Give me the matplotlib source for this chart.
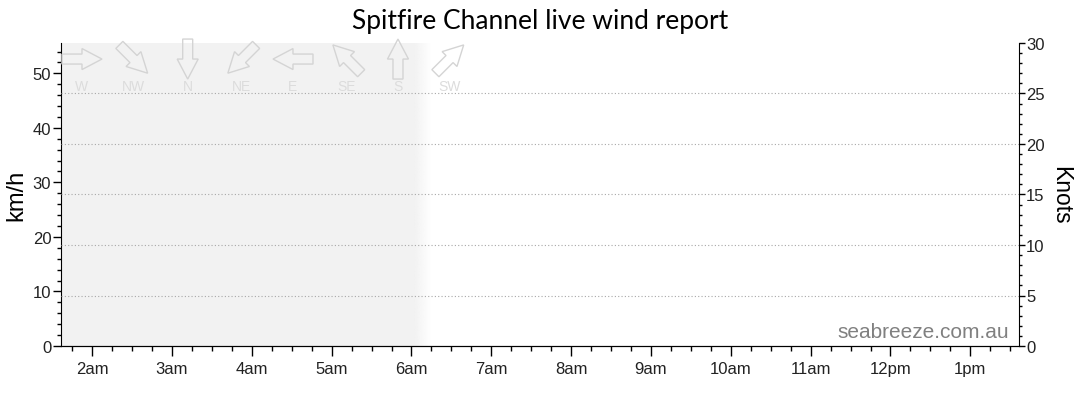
"""
Spitfire Channel live wind report: empty live chart with wind direction row.
"""

import matplotlib

matplotlib.use("Agg")

import matplotlib.pyplot as plt
import numpy as np
from matplotlib import transforms
from matplotlib.patches import Polygon
from matplotlib.ticker import MultipleLocator

# ---- data ------------------------------------------------------------------
hour_ticks = [2, 3, 4, 5, 6, 7, 8, 9, 10, 11, 12, 13]
hour_labels = ["2am", "3am", "4am", "5am", "6am", "7am", "8am",
               "9am", "10am", "11am", "12pm", "1pm"]
x_start, x_end = 1.61, 13.61          # visible time window (hours)
knots_max = 30
knot_grid = [5, 10, 15, 20, 25]

# night / no-report shading
shade_solid_end = 6.03
shade_fade_end = 6.24

# wind direction row
dir_hours = [1.873, 2.518, 3.197, 3.877, 4.516, 5.193, 5.831, 6.477]
dir_labels = ["W", "NW", "N", "NE", "E", "SE", "S", "SW"]
compass = {"N": 0, "NE": 45, "E": 90, "SE": 135,
           "S": 180, "SW": 225, "W": 270, "NW": 315}

KMH_PER_KNOT = 1.852
kmh_max = knots_max * KMH_PER_KNOT

plt.rcParams["font.family"] = ["Liberation Sans", "DejaVu Sans"]

fig = plt.figure(figsize=(10.8, 4.14), dpi=100)
ax = fig.add_axes([61 / 1080, 1 - 347 / 414, 958 / 1080, 303 / 414])
ax2 = ax.twinx()

# shading
shade_rgb = np.array([242, 242, 242]) / 255
ax.axvspan(x_start, shade_solid_end, color=shade_rgb, lw=0, zorder=0)
grad = np.ones((1, 64, 4))
grad[..., :3] = shade_rgb
grad[..., 3] = np.linspace(1, 0, 64)
ax.imshow(grad, extent=[shade_solid_end, shade_fade_end, 0, kmh_max],
          aspect="auto", interpolation="bilinear", zorder=0)

ax.set_xlim(x_start, x_end)
ax.set_ylim(0, kmh_max)
ax2.set_ylim(0, knots_max)

for k in knot_grid:
    ax2.axhline(k, color="#a8a8a8", lw=0.8, ls=(0, (1, 2)), zorder=1)

# axes styling
for a in (ax, ax2):
    a.spines["top"].set_visible(False)
ax.spines["right"].set_visible(False)
ax2.spines["left"].set_visible(False)

ax.set_xticks(hour_ticks)
ax.set_xticklabels(hour_labels)
ax.xaxis.set_minor_locator(MultipleLocator(0.25))
ax.yaxis.set_major_locator(MultipleLocator(10))
ax.yaxis.set_minor_locator(MultipleLocator(2))
ax2.yaxis.set_major_locator(MultipleLocator(5))
ax2.yaxis.set_minor_locator(MultipleLocator(1))

tick_size = 12
ax.tick_params(axis="x", which="major", length=7, width=1, labelsize=tick_size,
               pad=4, colors="black", labelcolor="#222222")
ax.tick_params(axis="x", which="minor", length=3.5, width=1)
ax.tick_params(axis="y", which="major", length=6, width=1, labelsize=tick_size,
               pad=1, labelcolor="#222222")
ax.tick_params(axis="y", which="minor", length=3, width=1)
ax2.tick_params(axis="y", which="major", length=4, width=1, labelsize=tick_size,
                pad=1, labelcolor="#222222")
ax2.tick_params(axis="y", which="minor", length=2.5, width=1)

ax.set_ylabel("km/h", fontsize=17, labelpad=4)
ax2.set_ylabel("Knots", fontsize=16.5, rotation=-90, labelpad=20)

fig.text(0.5, 1 - 22 / 414, "Spitfire Channel live wind report",
         ha="center", va="center", fontsize=19, family=["Lato", "DejaVu Sans"])

ax.text(0.9896, 0.03, "seabreeze.com.au", transform=ax.transAxes,
        ha="right", va="baseline", fontsize=15, color="#808080")

# wind direction arrows (pixel geometry, pointing +x)
s = fig.dpi / 100
arrow_shape = np.array([[-20, -5], [0, -5], [0, -10.5], [20, 0],
                        [0, 10.5], [0, 5], [-20, 5]])
row = transforms.blended_transform_factory(ax.transData, ax.transAxes)
for hour, lab in zip(dir_hours, dir_labels):
    to_bearing = compass[lab] + 180
    angle = 90 - to_bearing
    tr = (transforms.Affine2D().rotate_deg(angle).scale(s)
          + transforms.ScaledTranslation(hour, 0.947, row))
    ax2.add_patch(Polygon(arrow_shape, closed=True, fill=False,
                          edgecolor="#d4d4d4", lw=1, transform=tr,
                          clip_on=False, zorder=3))
    ax2.text(hour, 0.857, lab, transform=row, ha="center", va="center",
             fontsize=10, color="#dcdcdc", zorder=3)

fig.savefig("out.png", dpi=100)
